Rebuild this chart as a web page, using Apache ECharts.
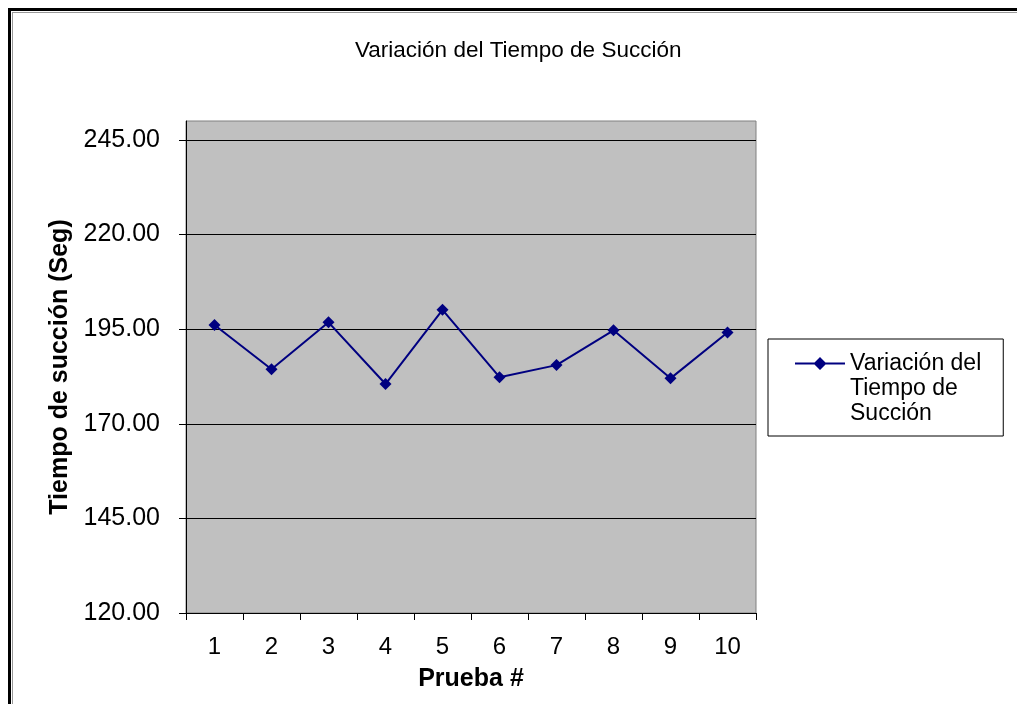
<!DOCTYPE html>
<html>
<head>
<meta charset="utf-8">
<script src="https://cdn.jsdelivr.net/npm/echarts@6/dist/echarts.min.js"></script>
<style>
  html, body { margin: 0; padding: 0; background: #fff; overflow: hidden; }
  #chart { position: absolute; left: 0; top: 0; width: 1017px; height: 704px; }
  #frame { position: absolute; left: 8px; top: 8px; width: 2000px; height: 2000px;
           border-top: 3px solid #000; border-left: 3px solid #000; pointer-events: none; }
  #frame2 { position: absolute; left: 12px; top: 12px; width: 2000px; height: 2000px;
           border-top: 1px solid #999; border-left: 1px solid #999; pointer-events: none; }
</style>
</head>
<body>
<div id="chart"></div>
<div id="frame"></div>
<div id="frame2"></div>
<script>
const titleText = 'Variación del Tiempo de Succión';
const seriesName = 'Variación del\nTiempo de\nSucción';
const categories = ['1', '2', '3', '4', '5', '6', '7', '8', '9', '10'];
const values = [196.1, 184.4, 196.8, 180.5, 200.1, 182.3, 185.5, 194.7, 182.0, 194.1];
const yMin = 120, yMax = 250, yStep = 25;
const xName = 'Prueba #';
const yName = 'Tiempo de succión (Seg)';

const FONT = 'Liberation Sans';
const legendIcon = 'path://M0 0L0 0ZM50 75L50 75ZM0 11.5L50 11.5L50 13.5L0 13.5ZM25 6L31.5 12.5L25 19L18.5 12.5Z';

const chart = echarts.init(document.getElementById('chart'), null, { renderer: 'canvas' });
chart.setOption({
  backgroundColor: '#fff',
  animation: false,
  textStyle: { fontFamily: FONT, color: '#000' },
  title: {
    text: titleText,
    left: 355, top: 39, padding: 0,
    textStyle: { fontFamily: FONT, fontSize: 22.5, fontWeight: 'normal', color: '#000' }
  },
  grid: {
    left: 186, right: 261, top: 121, bottom: 91,
    show: true, backgroundColor: '#c0c0c0', borderColor: '#808080', borderWidth: 1,
    containLabel: false
  },
  legend: {
    show: true,
    left: 768, top: 339,
    orient: 'vertical',
    padding: [12, 22, 10, 27],
    borderColor: '#000', borderWidth: 1, backgroundColor: '#fff',
    itemWidth: 50, itemHeight: 75,
    icon: legendIcon,
    itemStyle: { color: '#000080', borderWidth: 0 },
    textStyle: { fontFamily: FONT, fontSize: 23, lineHeight: 25, color: '#000' },
    data: [seriesName]
  },
  xAxis: {
    type: 'category',
    data: categories,
    boundaryGap: true,
    name: xName,
    nameLocation: 'middle',
    nameGap: 54,
    nameTextStyle: { fontFamily: FONT, fontSize: 25, fontWeight: 'bold', color: '#000' },
    axisLine: { show: true, lineStyle: { color: '#000', width: 1 } },
    axisTick: { show: true, length: 7, alignWithLabel: false, lineStyle: { color: '#000' } },
    axisLabel: { margin: 22, fontFamily: FONT, fontSize: 24, color: '#000' },
    splitLine: { show: false }
  },
  yAxis: {
    type: 'value',
    min: yMin, max: yMax, interval: yStep,
    name: yName,
    nameLocation: 'middle',
    nameGap: 111,
    nameTextStyle: { fontFamily: FONT, fontSize: 25, fontWeight: 'bold', color: '#000' },
    axisLine: { show: true, lineStyle: { color: '#000', width: 1 } },
    axisTick: { show: true, length: 7, lineStyle: { color: '#000' } },
    axisLabel: {
      margin: 26, fontFamily: FONT, fontSize: 25, color: '#000',
      showMaxLabel: false,
      formatter: v => v.toFixed(2)
    },
    splitLine: { show: true, showMaxLine: false, showMinLine: false, lineStyle: { color: '#000', width: 1 } }
  },
  series: [{
    name: seriesName,
    type: 'line',
    data: values,
    symbol: 'diamond',
    symbolSize: 12,
    color: '#000080',
    lineStyle: { color: '#000080', width: 2 },
    itemStyle: { color: '#000080' }
  }]
});
</script>
</body>
</html>
